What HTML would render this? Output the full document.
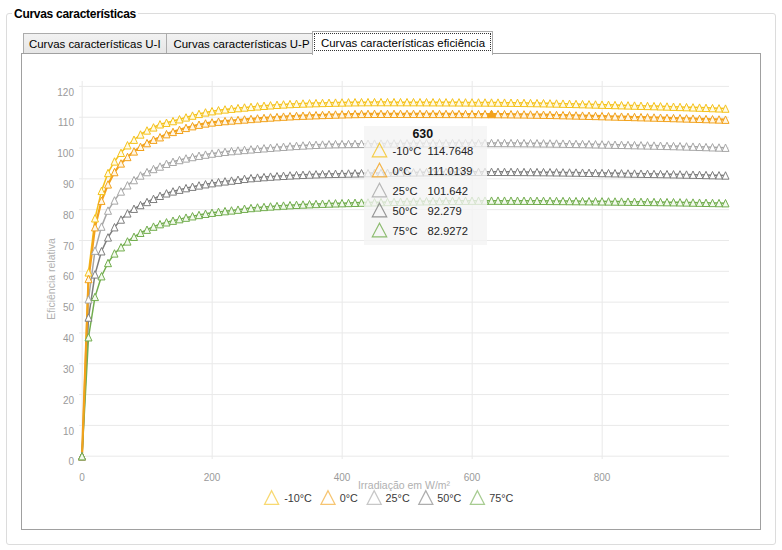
<!DOCTYPE html>
<html><head><meta charset="utf-8"><style>
html,body{margin:0;padding:0;background:#fff;}
body{width:782px;height:550px;position:relative;overflow:hidden;font-family:"Liberation Sans",Arial,sans-serif;}
.gb{position:absolute;left:6px;top:13px;width:768px;height:530px;border:1px solid #dcdcdc;border-radius:3px;}
.gt{position:absolute;left:12px;top:7px;padding:0 2px;background:#fff;font-weight:bold;font-size:12px;color:#000;line-height:14px;letter-spacing:-0.28px;}
.tab{position:absolute;top:33px;height:20px;border:1px solid #acacac;border-bottom:none;background:linear-gradient(#f2f2f2,#e6e6e6);font-size:11.45px;line-height:20px;color:#000;box-sizing:border-box;}
.panel{position:absolute;left:21px;top:53px;width:738px;height:475px;border:1px solid #a0a0a0;background:#fff;}
.sel{position:absolute;left:312px;top:31px;width:181px;height:24px;border:1px solid #acacac;border-bottom:none;background:#fff;box-sizing:border-box;font-size:11.45px;line-height:20px;}
.focus{position:absolute;left:314px;top:33px;width:177px;height:18px;box-sizing:border-box;border:1px dotted #333;}
svg.chart{position:absolute;left:0;top:0;}
.ax{font-size:10px;fill:#9a9a9a;font-family:"Liberation Sans",Arial,sans-serif;}
.at{font-size:10.5px;fill:#b0b0b0;font-family:"Liberation Sans",Arial,sans-serif;}
.lg{font-size:10.8px;fill:#3a3a3a;font-family:"Liberation Sans",Arial,sans-serif;}
.tip{position:absolute;left:364px;top:126px;width:122.5px;height:118.5px;background:rgba(244,244,244,0.78);box-sizing:border-box;padding-top:0px;}
.tt{font-weight:bold;font-size:12.4px;text-align:center;height:15px;line-height:16px;color:#111;padding-right:5px;}
.row{height:20px;position:relative;font-size:11.2px;color:#222;}
.row svg{position:absolute;left:7px;top:1px;}
.row .n{position:absolute;left:28.5px;top:3.6px;}
.row .v{position:absolute;left:63.5px;top:3.6px;}
</style></head><body>
<div class="gb"></div>
<div class="gt">Curvas características</div>
<div class="panel"></div>
<div class="tab" style="left:23px;width:144px;padding-left:5px;">Curvas características U-I</div>
<div class="tab" style="left:166px;width:147px;padding-left:6.5px;">Curvas características U-P</div>
<div class="sel"><span style="position:absolute;left:8px;top:0.5px;">Curvas características eficiência</span></div>
<div class="focus"></div>
<svg class="chart" width="782" height="550" viewBox="0 0 782 550">
<path d="M79 456.20H729M79 425.38H729M79 394.57H729M79 363.75H729M79 332.93H729M79 302.12H729M79 271.30H729M79 240.48H729M79 209.66H729M79 178.85H729M79 148.03H729M79 117.21H729M79 86.40H729M82.20 81V459M212.20 81V459M342.20 81V459M472.20 81V459M602.20 81V459" stroke="#e9e9e9" stroke-width="1" fill="none"/>
<text x="74" y="465.3" text-anchor="end" class="ax">0</text>
<text x="74" y="434.5" text-anchor="end" class="ax">10</text>
<text x="74" y="403.7" text-anchor="end" class="ax">20</text>
<text x="74" y="372.8" text-anchor="end" class="ax">30</text>
<text x="74" y="342.0" text-anchor="end" class="ax">40</text>
<text x="74" y="311.2" text-anchor="end" class="ax">50</text>
<text x="74" y="280.4" text-anchor="end" class="ax">60</text>
<text x="74" y="249.6" text-anchor="end" class="ax">70</text>
<text x="74" y="218.8" text-anchor="end" class="ax">80</text>
<text x="74" y="187.9" text-anchor="end" class="ax">90</text>
<text x="74" y="157.1" text-anchor="end" class="ax">100</text>
<text x="74" y="126.3" text-anchor="end" class="ax">110</text>
<text x="74" y="95.5" text-anchor="end" class="ax">120</text>
<text x="82.0" y="480.8" text-anchor="middle" class="ax">0</text>
<text x="212.0" y="480.8" text-anchor="middle" class="ax">200</text>
<text x="342.0" y="480.8" text-anchor="middle" class="ax">400</text>
<text x="472.0" y="480.8" text-anchor="middle" class="ax">600</text>
<text x="602.0" y="480.8" text-anchor="middle" class="ax">800</text>
<text transform="translate(54.8 279) rotate(-90)" text-anchor="middle" class="at">Eficiência relativa</text>
<text x="404" y="489" text-anchor="middle" class="at">Irradiação em W/m²</text>
<polyline points="82.00,456.20 88.50,272.38 95.00,218.29 101.50,190.87 108.00,172.99 114.50,161.44 121.00,152.81 127.50,145.26 134.00,139.71 140.50,134.47 147.00,130.46 153.50,127.38 160.00,124.30 166.50,122.76 173.00,121.08 179.50,119.27 186.00,117.42 192.50,115.59 199.00,113.89 205.50,112.40 212.00,111.20 218.50,110.25 225.00,109.44 231.50,108.72 238.00,108.09 244.50,107.49 251.00,106.91 257.50,106.34 264.00,105.80 270.50,105.30 277.00,104.83 283.50,104.41 290.00,104.04 296.50,103.74 303.00,103.50 309.50,103.30 316.00,103.11 322.50,102.93 329.00,102.76 335.50,102.60 342.00,102.46 348.50,102.34 355.00,102.25 361.50,102.17 368.00,102.13 374.50,102.11 381.00,102.11 387.50,102.12 394.00,102.13 400.50,102.14 407.00,102.15 413.50,102.17 420.00,102.19 426.50,102.21 433.00,102.23 439.50,102.26 446.00,102.29 452.50,102.32 459.00,102.35 465.50,102.38 472.00,102.42 478.50,102.45 485.00,102.49 491.50,102.53 498.00,102.57 504.50,102.63 511.00,102.70 517.50,102.79 524.00,102.88 530.50,102.99 537.00,103.10 543.50,103.23 550.00,103.36 556.50,103.50 563.00,103.65 569.50,103.80 576.00,103.96 582.50,104.13 589.00,104.30 595.50,104.47 602.00,104.65 608.50,104.83 615.00,105.02 621.50,105.20 628.00,105.38 634.50,105.57 641.00,105.75 647.50,105.94 654.00,106.12 660.50,106.30 667.00,106.50 673.50,106.71 680.00,106.92 686.50,107.14 693.00,107.37 699.50,107.61 706.00,107.85 712.50,108.09 719.00,108.34 725.50,108.58" fill="none" stroke="#f5c21b" stroke-width="1.5" stroke-linejoin="round"/>
<polyline points="82.00,456.20 88.50,299.34 95.00,250.65 101.50,226.61 108.00,210.59 114.50,200.42 121.00,191.48 127.50,185.32 134.00,180.08 140.50,175.46 147.00,172.07 153.50,168.99 160.00,166.52 166.50,163.75 173.00,161.78 179.50,160.02 186.00,158.44 192.50,157.02 199.00,155.75 205.50,154.61 212.00,153.58 218.50,152.65 225.00,151.83 231.50,151.11 238.00,150.50 244.50,149.93 251.00,149.37 257.50,148.82 264.00,148.28 270.50,147.75 277.00,147.24 283.50,146.76 290.00,146.30 296.50,145.87 303.00,145.48 309.50,145.12 316.00,144.81 322.50,144.53 329.00,144.31 335.50,144.14 342.00,144.02 348.50,143.94 355.00,143.86 361.50,143.78 368.00,143.70 374.50,143.63 381.00,143.56 387.50,143.50 394.00,143.44 400.50,143.38 407.00,143.32 413.50,143.27 420.00,143.23 426.50,143.18 433.00,143.14 439.50,143.11 446.00,143.08 452.50,143.05 459.00,143.02 465.50,143.00 472.00,142.99 478.50,142.98 485.00,142.97 491.50,142.97 498.00,142.98 504.50,143.00 511.00,143.03 517.50,143.07 524.00,143.13 530.50,143.19 537.00,143.27 543.50,143.35 550.00,143.44 556.50,143.54 563.00,143.65 569.50,143.77 576.00,143.89 582.50,144.01 589.00,144.14 595.50,144.28 602.00,144.41 608.50,144.56 615.00,144.70 621.50,144.84 628.00,144.99 634.50,145.13 641.00,145.28 647.50,145.42 654.00,145.56 660.50,145.71 667.00,145.88 673.50,146.05 680.00,146.23 686.50,146.43 693.00,146.63 699.50,146.84 706.00,147.06 712.50,147.28 719.00,147.50 725.50,147.72" fill="none" stroke="#a6a6a6" stroke-width="1.5" stroke-linejoin="round"/>
<polyline points="82.00,456.20 88.50,317.52 95.00,274.38 101.50,251.27 108.00,237.40 114.50,227.23 121.00,219.53 127.50,213.36 134.00,208.74 140.50,205.04 147.00,201.96 153.50,198.84 160.00,195.80 166.50,193.33 173.00,191.41 179.50,189.68 186.00,188.12 192.50,186.70 199.00,185.42 205.50,184.25 212.00,183.16 218.50,182.20 225.00,181.37 231.50,180.58 238.00,179.77 244.50,178.84 251.00,178.12 257.50,177.59 264.00,177.09 270.50,176.62 277.00,176.19 283.50,175.79 290.00,175.43 296.50,175.09 303.00,174.79 309.50,174.53 316.00,174.30 322.50,174.10 329.00,173.93 335.50,173.79 342.00,173.65 348.50,173.51 355.00,173.37 361.50,173.24 368.00,173.12 374.50,173.00 381.00,172.88 387.50,172.77 394.00,172.66 400.50,172.56 407.00,172.47 413.50,172.38 420.00,172.29 426.50,172.22 433.00,172.14 439.50,172.08 446.00,172.02 452.50,171.97 459.00,171.93 465.50,171.89 472.00,171.86 478.50,171.84 485.00,171.83 491.50,171.82 498.00,171.83 504.50,171.85 511.00,171.87 517.50,171.91 524.00,171.95 530.50,172.01 537.00,172.07 543.50,172.14 550.00,172.22 556.50,172.30 563.00,172.39 569.50,172.48 576.00,172.58 582.50,172.68 589.00,172.79 595.50,172.90 602.00,173.01 608.50,173.12 615.00,173.24 621.50,173.35 628.00,173.47 634.50,173.58 641.00,173.69 647.50,173.81 654.00,173.92 660.50,174.03 667.00,174.15 673.50,174.28 680.00,174.41 686.50,174.55 693.00,174.69 699.50,174.84 706.00,174.99 712.50,175.14 719.00,175.30 725.50,175.46" fill="none" stroke="#7d7d7d" stroke-width="1.5" stroke-linejoin="round"/>
<polyline points="82.00,456.20 88.50,337.25 95.00,296.88 101.50,276.23 108.00,262.98 114.50,253.42 121.00,247.26 127.50,241.41 134.00,236.78 140.50,232.78 147.00,229.70 153.50,226.61 160.00,224.15 166.50,222.30 173.00,220.69 179.50,219.13 186.00,217.65 192.50,216.25 199.00,214.95 205.50,213.78 212.00,212.75 218.50,211.88 225.00,211.13 231.50,210.42 238.00,209.66 244.50,208.75 251.00,208.01 257.50,207.45 264.00,206.94 270.50,206.45 277.00,206.00 283.50,205.58 290.00,205.19 296.50,204.84 303.00,204.51 309.50,204.22 316.00,203.96 322.50,203.72 329.00,203.52 335.50,203.33 342.00,203.15 348.50,202.97 355.00,202.79 361.50,202.62 368.00,202.45 374.50,202.29 381.00,202.13 387.50,201.98 394.00,201.83 400.50,201.69 407.00,201.56 413.50,201.43 420.00,201.32 426.50,201.21 433.00,201.10 439.50,201.01 446.00,200.93 452.50,200.86 459.00,200.79 465.50,200.74 472.00,200.70 478.50,200.67 485.00,200.65 491.50,200.64 498.00,200.65 504.50,200.66 511.00,200.67 517.50,200.69 524.00,200.72 530.50,200.75 537.00,200.79 543.50,200.83 550.00,200.88 556.50,200.93 563.00,200.98 569.50,201.04 576.00,201.10 582.50,201.16 589.00,201.23 595.50,201.29 602.00,201.36 608.50,201.44 615.00,201.51 621.50,201.58 628.00,201.66 634.50,201.73 641.00,201.81 647.50,201.88 654.00,201.96 660.50,202.04 667.00,202.13 673.50,202.23 680.00,202.33 686.50,202.44 693.00,202.56 699.50,202.68 706.00,202.81 712.50,202.93 719.00,203.06 725.50,203.19" fill="none" stroke="#72ad4e" stroke-width="1.5" stroke-linejoin="round"/>
<polyline points="82.00,456.20 88.50,279.00 95.00,227.23 101.50,200.73 108.00,184.39 114.50,172.07 121.00,163.44 127.50,156.97 134.00,151.42 140.50,146.80 147.00,143.10 153.50,139.71 160.00,137.24 166.50,134.16 173.00,131.90 179.50,129.80 186.00,127.89 192.50,126.19 199.00,124.70 205.50,123.45 212.00,122.45 218.50,121.68 225.00,121.05 231.50,120.50 238.00,119.99 244.50,119.47 251.00,118.95 257.50,118.44 264.00,117.95 270.50,117.48 277.00,117.04 283.50,116.63 290.00,116.27 296.50,115.94 303.00,115.67 309.50,115.43 316.00,115.18 322.50,114.95 329.00,114.72 335.50,114.51 342.00,114.32 348.50,114.15 355.00,114.02 361.50,113.91 368.00,113.85 374.50,113.82 381.00,113.82 387.50,113.83 394.00,113.83 400.50,113.84 407.00,113.85 413.50,113.86 420.00,113.87 426.50,113.88 433.00,113.90 439.50,113.91 446.00,113.93 452.50,113.95 459.00,113.97 465.50,113.99 472.00,114.02 478.50,114.04 485.00,114.06 491.50,114.09 498.00,114.12 504.50,114.17 511.00,114.23 517.50,114.31 524.00,114.39 530.50,114.49 537.00,114.60 543.50,114.72 550.00,114.85 556.50,114.99 563.00,115.14 569.50,115.29 576.00,115.45 582.50,115.61 589.00,115.78 595.50,115.95 602.00,116.12 608.50,116.30 615.00,116.48 621.50,116.66 628.00,116.83 634.50,117.01 641.00,117.18 647.50,117.35 654.00,117.52 660.50,117.69 667.00,117.87 673.50,118.05 680.00,118.24 686.50,118.43 693.00,118.63 699.50,118.84 706.00,119.04 712.50,119.25 719.00,119.46 725.50,119.68" fill="none" stroke="#f2a21c" stroke-width="2.2" stroke-linejoin="round"/>
<path d="M82.00 452.50L85.50 459.90H78.50ZM88.50 268.68L92.00 276.08H85.00ZM95.00 214.59L98.50 221.99H91.50ZM101.50 187.17L105.00 194.57H98.00ZM108.00 169.29L111.50 176.69H104.50ZM114.50 157.74L118.00 165.14H111.00ZM121.00 149.11L124.50 156.51H117.50ZM127.50 141.56L131.00 148.96H124.00ZM134.00 136.01L137.50 143.41H130.50ZM140.50 130.77L144.00 138.17H137.00ZM147.00 126.76L150.50 134.16H143.50ZM153.50 123.68L157.00 131.08H150.00ZM160.00 120.60L163.50 128.00H156.50ZM166.50 119.06L170.00 126.46H163.00ZM173.00 117.38L176.50 124.78H169.50ZM179.50 115.57L183.00 122.97H176.00ZM186.00 113.72L189.50 121.12H182.50ZM192.50 111.89L196.00 119.29H189.00ZM199.00 110.19L202.50 117.59H195.50ZM205.50 108.70L209.00 116.10H202.00ZM212.00 107.50L215.50 114.90H208.50ZM218.50 106.55L222.00 113.95H215.00ZM225.00 105.74L228.50 113.14H221.50ZM231.50 105.02L235.00 112.42H228.00ZM238.00 104.39L241.50 111.79H234.50ZM244.50 103.79L248.00 111.19H241.00ZM251.00 103.21L254.50 110.61H247.50ZM257.50 102.64L261.00 110.04H254.00ZM264.00 102.10L267.50 109.50H260.50ZM270.50 101.60L274.00 109.00H267.00ZM277.00 101.13L280.50 108.53H273.50ZM283.50 100.71L287.00 108.11H280.00ZM290.00 100.34L293.50 107.74H286.50ZM296.50 100.04L300.00 107.44H293.00ZM303.00 99.80L306.50 107.20H299.50ZM309.50 99.60L313.00 107.00H306.00ZM316.00 99.41L319.50 106.81H312.50ZM322.50 99.23L326.00 106.63H319.00ZM329.00 99.06L332.50 106.46H325.50ZM335.50 98.90L339.00 106.30H332.00ZM342.00 98.76L345.50 106.16H338.50ZM348.50 98.64L352.00 106.04H345.00ZM355.00 98.55L358.50 105.95H351.50ZM361.50 98.47L365.00 105.87H358.00ZM368.00 98.43L371.50 105.83H364.50ZM374.50 98.41L378.00 105.81H371.00ZM381.00 98.41L384.50 105.81H377.50ZM387.50 98.42L391.00 105.82H384.00ZM394.00 98.43L397.50 105.83H390.50ZM400.50 98.44L404.00 105.84H397.00ZM407.00 98.45L410.50 105.85H403.50ZM413.50 98.47L417.00 105.87H410.00ZM420.00 98.49L423.50 105.89H416.50ZM426.50 98.51L430.00 105.91H423.00ZM433.00 98.53L436.50 105.93H429.50ZM439.50 98.56L443.00 105.96H436.00ZM446.00 98.59L449.50 105.99H442.50ZM452.50 98.62L456.00 106.02H449.00ZM459.00 98.65L462.50 106.05H455.50ZM465.50 98.68L469.00 106.08H462.00ZM472.00 98.72L475.50 106.12H468.50ZM478.50 98.75L482.00 106.15H475.00ZM485.00 98.79L488.50 106.19H481.50ZM491.50 98.83L495.00 106.23H488.00ZM498.00 98.87L501.50 106.27H494.50ZM504.50 98.93L508.00 106.33H501.00ZM511.00 99.00L514.50 106.40H507.50ZM517.50 99.09L521.00 106.49H514.00ZM524.00 99.18L527.50 106.58H520.50ZM530.50 99.29L534.00 106.69H527.00ZM537.00 99.40L540.50 106.80H533.50ZM543.50 99.53L547.00 106.93H540.00ZM550.00 99.66L553.50 107.06H546.50ZM556.50 99.80L560.00 107.20H553.00ZM563.00 99.95L566.50 107.35H559.50ZM569.50 100.10L573.00 107.50H566.00ZM576.00 100.26L579.50 107.66H572.50ZM582.50 100.43L586.00 107.83H579.00ZM589.00 100.60L592.50 108.00H585.50ZM595.50 100.77L599.00 108.17H592.00ZM602.00 100.95L605.50 108.35H598.50ZM608.50 101.13L612.00 108.53H605.00ZM615.00 101.32L618.50 108.72H611.50ZM621.50 101.50L625.00 108.90H618.00ZM628.00 101.68L631.50 109.08H624.50ZM634.50 101.87L638.00 109.27H631.00ZM641.00 102.05L644.50 109.45H637.50ZM647.50 102.24L651.00 109.64H644.00ZM654.00 102.42L657.50 109.82H650.50ZM660.50 102.60L664.00 110.00H657.00ZM667.00 102.80L670.50 110.20H663.50ZM673.50 103.01L677.00 110.41H670.00ZM680.00 103.22L683.50 110.62H676.50ZM686.50 103.44L690.00 110.84H683.00ZM693.00 103.67L696.50 111.07H689.50ZM699.50 103.91L703.00 111.31H696.00ZM706.00 104.15L709.50 111.55H702.50ZM712.50 104.39L716.00 111.79H709.00ZM719.00 104.64L722.50 112.04H715.50ZM725.50 104.88L729.00 112.28H722.00Z" fill="#fffbe6" stroke="#f5c21b" stroke-width="1"/>
<path d="M82.00 452.50L85.50 459.90H78.50ZM88.50 275.30L92.00 282.70H85.00ZM95.00 223.53L98.50 230.93H91.50ZM101.50 197.03L105.00 204.43H98.00ZM108.00 180.69L111.50 188.09H104.50ZM114.50 168.37L118.00 175.77H111.00ZM121.00 159.74L124.50 167.14H117.50ZM127.50 153.27L131.00 160.67H124.00ZM134.00 147.72L137.50 155.12H130.50ZM140.50 143.10L144.00 150.50H137.00ZM147.00 139.40L150.50 146.80H143.50ZM153.50 136.01L157.00 143.41H150.00ZM160.00 133.54L163.50 140.94H156.50ZM166.50 130.46L170.00 137.86H163.00ZM173.00 128.20L176.50 135.60H169.50ZM179.50 126.10L183.00 133.50H176.00ZM186.00 124.19L189.50 131.59H182.50ZM192.50 122.49L196.00 129.89H189.00ZM199.00 121.00L202.50 128.40H195.50ZM205.50 119.75L209.00 127.15H202.00ZM212.00 118.75L215.50 126.15H208.50ZM218.50 117.98L222.00 125.38H215.00ZM225.00 117.35L228.50 124.75H221.50ZM231.50 116.80L235.00 124.20H228.00ZM238.00 116.29L241.50 123.69H234.50ZM244.50 115.77L248.00 123.17H241.00ZM251.00 115.25L254.50 122.65H247.50ZM257.50 114.74L261.00 122.14H254.00ZM264.00 114.25L267.50 121.65H260.50ZM270.50 113.78L274.00 121.18H267.00ZM277.00 113.34L280.50 120.74H273.50ZM283.50 112.93L287.00 120.33H280.00ZM290.00 112.57L293.50 119.97H286.50ZM296.50 112.24L300.00 119.64H293.00ZM303.00 111.97L306.50 119.37H299.50ZM309.50 111.73L313.00 119.13H306.00ZM316.00 111.48L319.50 118.88H312.50ZM322.50 111.25L326.00 118.65H319.00ZM329.00 111.02L332.50 118.42H325.50ZM335.50 110.81L339.00 118.21H332.00ZM342.00 110.62L345.50 118.02H338.50ZM348.50 110.45L352.00 117.85H345.00ZM355.00 110.32L358.50 117.72H351.50ZM361.50 110.21L365.00 117.61H358.00ZM368.00 110.15L371.50 117.55H364.50ZM374.50 110.12L378.00 117.52H371.00ZM381.00 110.12L384.50 117.52H377.50ZM387.50 110.13L391.00 117.53H384.00ZM394.00 110.13L397.50 117.53H390.50ZM400.50 110.14L404.00 117.54H397.00ZM407.00 110.15L410.50 117.55H403.50ZM413.50 110.16L417.00 117.56H410.00ZM420.00 110.17L423.50 117.57H416.50ZM426.50 110.18L430.00 117.58H423.00ZM433.00 110.20L436.50 117.60H429.50ZM439.50 110.21L443.00 117.61H436.00ZM446.00 110.23L449.50 117.63H442.50ZM452.50 110.25L456.00 117.65H449.00ZM459.00 110.27L462.50 117.67H455.50ZM465.50 110.29L469.00 117.69H462.00ZM472.00 110.32L475.50 117.72H468.50ZM478.50 110.34L482.00 117.74H475.00ZM485.00 110.36L488.50 117.76H481.50ZM491.50 110.39L495.00 117.79H488.00ZM498.00 110.42L501.50 117.82H494.50ZM504.50 110.47L508.00 117.87H501.00ZM511.00 110.53L514.50 117.93H507.50ZM517.50 110.61L521.00 118.01H514.00ZM524.00 110.69L527.50 118.09H520.50ZM530.50 110.79L534.00 118.19H527.00ZM537.00 110.90L540.50 118.30H533.50ZM543.50 111.02L547.00 118.42H540.00ZM550.00 111.15L553.50 118.55H546.50ZM556.50 111.29L560.00 118.69H553.00ZM563.00 111.44L566.50 118.84H559.50ZM569.50 111.59L573.00 118.99H566.00ZM576.00 111.75L579.50 119.15H572.50ZM582.50 111.91L586.00 119.31H579.00ZM589.00 112.08L592.50 119.48H585.50ZM595.50 112.25L599.00 119.65H592.00ZM602.00 112.42L605.50 119.82H598.50ZM608.50 112.60L612.00 120.00H605.00ZM615.00 112.78L618.50 120.18H611.50ZM621.50 112.96L625.00 120.36H618.00ZM628.00 113.13L631.50 120.53H624.50ZM634.50 113.31L638.00 120.71H631.00ZM641.00 113.48L644.50 120.88H637.50ZM647.50 113.65L651.00 121.05H644.00ZM654.00 113.82L657.50 121.22H650.50ZM660.50 113.99L664.00 121.39H657.00ZM667.00 114.17L670.50 121.57H663.50ZM673.50 114.35L677.00 121.75H670.00ZM680.00 114.54L683.50 121.94H676.50ZM686.50 114.73L690.00 122.13H683.00ZM693.00 114.93L696.50 122.33H689.50ZM699.50 115.14L703.00 122.54H696.00ZM706.00 115.34L709.50 122.74H702.50ZM712.50 115.55L716.00 122.95H709.00ZM719.00 115.76L722.50 123.16H715.50ZM725.50 115.98L729.00 123.38H722.00Z" fill="#fff6e6" stroke="#f2a21c" stroke-width="1"/>
<path d="M82.00 452.50L85.50 459.90H78.50ZM88.50 295.64L92.00 303.04H85.00ZM95.00 246.95L98.50 254.35H91.50ZM101.50 222.91L105.00 230.31H98.00ZM108.00 206.89L111.50 214.29H104.50ZM114.50 196.72L118.00 204.12H111.00ZM121.00 187.78L124.50 195.18H117.50ZM127.50 181.62L131.00 189.02H124.00ZM134.00 176.38L137.50 183.78H130.50ZM140.50 171.76L144.00 179.16H137.00ZM147.00 168.37L150.50 175.77H143.50ZM153.50 165.29L157.00 172.69H150.00ZM160.00 162.82L163.50 170.22H156.50ZM166.50 160.05L170.00 167.45H163.00ZM173.00 158.08L176.50 165.48H169.50ZM179.50 156.32L183.00 163.72H176.00ZM186.00 154.74L189.50 162.14H182.50ZM192.50 153.32L196.00 160.72H189.00ZM199.00 152.05L202.50 159.45H195.50ZM205.50 150.91L209.00 158.31H202.00ZM212.00 149.88L215.50 157.28H208.50ZM218.50 148.95L222.00 156.35H215.00ZM225.00 148.13L228.50 155.53H221.50ZM231.50 147.41L235.00 154.81H228.00ZM238.00 146.80L241.50 154.20H234.50ZM244.50 146.23L248.00 153.63H241.00ZM251.00 145.67L254.50 153.07H247.50ZM257.50 145.12L261.00 152.52H254.00ZM264.00 144.58L267.50 151.98H260.50ZM270.50 144.05L274.00 151.45H267.00ZM277.00 143.54L280.50 150.94H273.50ZM283.50 143.06L287.00 150.46H280.00ZM290.00 142.60L293.50 150.00H286.50ZM296.50 142.17L300.00 149.57H293.00ZM303.00 141.78L306.50 149.18H299.50ZM309.50 141.42L313.00 148.82H306.00ZM316.00 141.11L319.50 148.51H312.50ZM322.50 140.83L326.00 148.23H319.00ZM329.00 140.61L332.50 148.01H325.50ZM335.50 140.44L339.00 147.84H332.00ZM342.00 140.32L345.50 147.72H338.50ZM348.50 140.24L352.00 147.64H345.00ZM355.00 140.16L358.50 147.56H351.50ZM361.50 140.08L365.00 147.48H358.00ZM368.00 140.00L371.50 147.40H364.50ZM374.50 139.93L378.00 147.33H371.00ZM381.00 139.86L384.50 147.26H377.50ZM387.50 139.80L391.00 147.20H384.00ZM394.00 139.74L397.50 147.14H390.50ZM400.50 139.68L404.00 147.08H397.00ZM407.00 139.62L410.50 147.02H403.50ZM413.50 139.57L417.00 146.97H410.00ZM420.00 139.53L423.50 146.93H416.50ZM426.50 139.48L430.00 146.88H423.00ZM433.00 139.44L436.50 146.84H429.50ZM439.50 139.41L443.00 146.81H436.00ZM446.00 139.38L449.50 146.78H442.50ZM452.50 139.35L456.00 146.75H449.00ZM459.00 139.32L462.50 146.72H455.50ZM465.50 139.30L469.00 146.70H462.00ZM472.00 139.29L475.50 146.69H468.50ZM478.50 139.28L482.00 146.68H475.00ZM485.00 139.27L488.50 146.67H481.50ZM491.50 139.27L495.00 146.67H488.00ZM498.00 139.28L501.50 146.68H494.50ZM504.50 139.30L508.00 146.70H501.00ZM511.00 139.33L514.50 146.73H507.50ZM517.50 139.37L521.00 146.77H514.00ZM524.00 139.43L527.50 146.83H520.50ZM530.50 139.49L534.00 146.89H527.00ZM537.00 139.57L540.50 146.97H533.50ZM543.50 139.65L547.00 147.05H540.00ZM550.00 139.74L553.50 147.14H546.50ZM556.50 139.84L560.00 147.24H553.00ZM563.00 139.95L566.50 147.35H559.50ZM569.50 140.07L573.00 147.47H566.00ZM576.00 140.19L579.50 147.59H572.50ZM582.50 140.31L586.00 147.71H579.00ZM589.00 140.44L592.50 147.84H585.50ZM595.50 140.58L599.00 147.98H592.00ZM602.00 140.71L605.50 148.11H598.50ZM608.50 140.86L612.00 148.26H605.00ZM615.00 141.00L618.50 148.40H611.50ZM621.50 141.14L625.00 148.54H618.00ZM628.00 141.29L631.50 148.69H624.50ZM634.50 141.43L638.00 148.83H631.00ZM641.00 141.58L644.50 148.98H637.50ZM647.50 141.72L651.00 149.12H644.00ZM654.00 141.86L657.50 149.26H650.50ZM660.50 142.01L664.00 149.41H657.00ZM667.00 142.18L670.50 149.58H663.50ZM673.50 142.35L677.00 149.75H670.00ZM680.00 142.53L683.50 149.93H676.50ZM686.50 142.73L690.00 150.13H683.00ZM693.00 142.93L696.50 150.33H689.50ZM699.50 143.14L703.00 150.54H696.00ZM706.00 143.36L709.50 150.76H702.50ZM712.50 143.58L716.00 150.98H709.00ZM719.00 143.80L722.50 151.20H715.50ZM725.50 144.02L729.00 151.42H722.00Z" fill="#ffffff" stroke="#a6a6a6" stroke-width="1"/>
<path d="M82.00 452.50L85.50 459.90H78.50ZM88.50 313.82L92.00 321.22H85.00ZM95.00 270.68L98.50 278.08H91.50ZM101.50 247.57L105.00 254.97H98.00ZM108.00 233.70L111.50 241.10H104.50ZM114.50 223.53L118.00 230.93H111.00ZM121.00 215.83L124.50 223.23H117.50ZM127.50 209.66L131.00 217.06H124.00ZM134.00 205.04L137.50 212.44H130.50ZM140.50 201.34L144.00 208.74H137.00ZM147.00 198.26L150.50 205.66H143.50ZM153.50 195.14L157.00 202.54H150.00ZM160.00 192.10L163.50 199.50H156.50ZM166.50 189.63L170.00 197.03H163.00ZM173.00 187.71L176.50 195.11H169.50ZM179.50 185.98L183.00 193.38H176.00ZM186.00 184.42L189.50 191.82H182.50ZM192.50 183.00L196.00 190.40H189.00ZM199.00 181.72L202.50 189.12H195.50ZM205.50 180.55L209.00 187.95H202.00ZM212.00 179.46L215.50 186.86H208.50ZM218.50 178.50L222.00 185.90H215.00ZM225.00 177.67L228.50 185.07H221.50ZM231.50 176.88L235.00 184.28H228.00ZM238.00 176.07L241.50 183.47H234.50ZM244.50 175.14L248.00 182.54H241.00ZM251.00 174.42L254.50 181.82H247.50ZM257.50 173.89L261.00 181.29H254.00ZM264.00 173.39L267.50 180.79H260.50ZM270.50 172.92L274.00 180.32H267.00ZM277.00 172.49L280.50 179.89H273.50ZM283.50 172.09L287.00 179.49H280.00ZM290.00 171.73L293.50 179.13H286.50ZM296.50 171.39L300.00 178.79H293.00ZM303.00 171.09L306.50 178.49H299.50ZM309.50 170.83L313.00 178.23H306.00ZM316.00 170.60L319.50 178.00H312.50ZM322.50 170.40L326.00 177.80H319.00ZM329.00 170.23L332.50 177.63H325.50ZM335.50 170.09L339.00 177.49H332.00ZM342.00 169.95L345.50 177.35H338.50ZM348.50 169.81L352.00 177.21H345.00ZM355.00 169.67L358.50 177.07H351.50ZM361.50 169.54L365.00 176.94H358.00ZM368.00 169.42L371.50 176.82H364.50ZM374.50 169.30L378.00 176.70H371.00ZM381.00 169.18L384.50 176.58H377.50ZM387.50 169.07L391.00 176.47H384.00ZM394.00 168.96L397.50 176.36H390.50ZM400.50 168.86L404.00 176.26H397.00ZM407.00 168.77L410.50 176.17H403.50ZM413.50 168.68L417.00 176.08H410.00ZM420.00 168.59L423.50 175.99H416.50ZM426.50 168.52L430.00 175.92H423.00ZM433.00 168.44L436.50 175.84H429.50ZM439.50 168.38L443.00 175.78H436.00ZM446.00 168.32L449.50 175.72H442.50ZM452.50 168.27L456.00 175.67H449.00ZM459.00 168.23L462.50 175.63H455.50ZM465.50 168.19L469.00 175.59H462.00ZM472.00 168.16L475.50 175.56H468.50ZM478.50 168.14L482.00 175.54H475.00ZM485.00 168.13L488.50 175.53H481.50ZM491.50 168.12L495.00 175.52H488.00ZM498.00 168.13L501.50 175.53H494.50ZM504.50 168.15L508.00 175.55H501.00ZM511.00 168.17L514.50 175.57H507.50ZM517.50 168.21L521.00 175.61H514.00ZM524.00 168.25L527.50 175.65H520.50ZM530.50 168.31L534.00 175.71H527.00ZM537.00 168.37L540.50 175.77H533.50ZM543.50 168.44L547.00 175.84H540.00ZM550.00 168.52L553.50 175.92H546.50ZM556.50 168.60L560.00 176.00H553.00ZM563.00 168.69L566.50 176.09H559.50ZM569.50 168.78L573.00 176.18H566.00ZM576.00 168.88L579.50 176.28H572.50ZM582.50 168.98L586.00 176.38H579.00ZM589.00 169.09L592.50 176.49H585.50ZM595.50 169.20L599.00 176.60H592.00ZM602.00 169.31L605.50 176.71H598.50ZM608.50 169.42L612.00 176.82H605.00ZM615.00 169.54L618.50 176.94H611.50ZM621.50 169.65L625.00 177.05H618.00ZM628.00 169.77L631.50 177.17H624.50ZM634.50 169.88L638.00 177.28H631.00ZM641.00 169.99L644.50 177.39H637.50ZM647.50 170.11L651.00 177.51H644.00ZM654.00 170.22L657.50 177.62H650.50ZM660.50 170.33L664.00 177.73H657.00ZM667.00 170.45L670.50 177.85H663.50ZM673.50 170.58L677.00 177.98H670.00ZM680.00 170.71L683.50 178.11H676.50ZM686.50 170.85L690.00 178.25H683.00ZM693.00 170.99L696.50 178.39H689.50ZM699.50 171.14L703.00 178.54H696.00ZM706.00 171.29L709.50 178.69H702.50ZM712.50 171.44L716.00 178.84H709.00ZM719.00 171.60L722.50 179.00H715.50ZM725.50 171.76L729.00 179.16H722.00Z" fill="#ffffff" stroke="#7d7d7d" stroke-width="1"/>
<path d="M82.00 452.50L85.50 459.90H78.50ZM88.50 333.55L92.00 340.95H85.00ZM95.00 293.18L98.50 300.58H91.50ZM101.50 272.53L105.00 279.93H98.00ZM108.00 259.28L111.50 266.68H104.50ZM114.50 249.72L118.00 257.12H111.00ZM121.00 243.56L124.50 250.96H117.50ZM127.50 237.71L131.00 245.11H124.00ZM134.00 233.08L137.50 240.48H130.50ZM140.50 229.08L144.00 236.48H137.00ZM147.00 226.00L150.50 233.40H143.50ZM153.50 222.91L157.00 230.31H150.00ZM160.00 220.45L163.50 227.85H156.50ZM166.50 218.60L170.00 226.00H163.00ZM173.00 216.99L176.50 224.39H169.50ZM179.50 215.43L183.00 222.83H176.00ZM186.00 213.95L189.50 221.35H182.50ZM192.50 212.55L196.00 219.95H189.00ZM199.00 211.25L202.50 218.65H195.50ZM205.50 210.08L209.00 217.48H202.00ZM212.00 209.05L215.50 216.45H208.50ZM218.50 208.18L222.00 215.58H215.00ZM225.00 207.43L228.50 214.83H221.50ZM231.50 206.72L235.00 214.12H228.00ZM238.00 205.96L241.50 213.36H234.50ZM244.50 205.05L248.00 212.45H241.00ZM251.00 204.31L254.50 211.71H247.50ZM257.50 203.75L261.00 211.15H254.00ZM264.00 203.24L267.50 210.64H260.50ZM270.50 202.75L274.00 210.15H267.00ZM277.00 202.30L280.50 209.70H273.50ZM283.50 201.88L287.00 209.28H280.00ZM290.00 201.49L293.50 208.89H286.50ZM296.50 201.14L300.00 208.54H293.00ZM303.00 200.81L306.50 208.21H299.50ZM309.50 200.52L313.00 207.92H306.00ZM316.00 200.26L319.50 207.66H312.50ZM322.50 200.02L326.00 207.42H319.00ZM329.00 199.82L332.50 207.22H325.50ZM335.50 199.63L339.00 207.03H332.00ZM342.00 199.45L345.50 206.85H338.50ZM348.50 199.27L352.00 206.67H345.00ZM355.00 199.09L358.50 206.49H351.50ZM361.50 198.92L365.00 206.32H358.00ZM368.00 198.75L371.50 206.15H364.50ZM374.50 198.59L378.00 205.99H371.00ZM381.00 198.43L384.50 205.83H377.50ZM387.50 198.28L391.00 205.68H384.00ZM394.00 198.13L397.50 205.53H390.50ZM400.50 197.99L404.00 205.39H397.00ZM407.00 197.86L410.50 205.26H403.50ZM413.50 197.73L417.00 205.13H410.00ZM420.00 197.62L423.50 205.02H416.50ZM426.50 197.51L430.00 204.91H423.00ZM433.00 197.40L436.50 204.80H429.50ZM439.50 197.31L443.00 204.71H436.00ZM446.00 197.23L449.50 204.63H442.50ZM452.50 197.16L456.00 204.56H449.00ZM459.00 197.09L462.50 204.49H455.50ZM465.50 197.04L469.00 204.44H462.00ZM472.00 197.00L475.50 204.40H468.50ZM478.50 196.97L482.00 204.37H475.00ZM485.00 196.95L488.50 204.35H481.50ZM491.50 196.94L495.00 204.34H488.00ZM498.00 196.95L501.50 204.35H494.50ZM504.50 196.96L508.00 204.36H501.00ZM511.00 196.97L514.50 204.37H507.50ZM517.50 196.99L521.00 204.39H514.00ZM524.00 197.02L527.50 204.42H520.50ZM530.50 197.05L534.00 204.45H527.00ZM537.00 197.09L540.50 204.49H533.50ZM543.50 197.13L547.00 204.53H540.00ZM550.00 197.18L553.50 204.58H546.50ZM556.50 197.23L560.00 204.63H553.00ZM563.00 197.28L566.50 204.68H559.50ZM569.50 197.34L573.00 204.74H566.00ZM576.00 197.40L579.50 204.80H572.50ZM582.50 197.46L586.00 204.86H579.00ZM589.00 197.53L592.50 204.93H585.50ZM595.50 197.59L599.00 204.99H592.00ZM602.00 197.66L605.50 205.06H598.50ZM608.50 197.74L612.00 205.14H605.00ZM615.00 197.81L618.50 205.21H611.50ZM621.50 197.88L625.00 205.28H618.00ZM628.00 197.96L631.50 205.36H624.50ZM634.50 198.03L638.00 205.43H631.00ZM641.00 198.11L644.50 205.51H637.50ZM647.50 198.18L651.00 205.58H644.00ZM654.00 198.26L657.50 205.66H650.50ZM660.50 198.34L664.00 205.74H657.00ZM667.00 198.43L670.50 205.83H663.50ZM673.50 198.53L677.00 205.93H670.00ZM680.00 198.63L683.50 206.03H676.50ZM686.50 198.74L690.00 206.14H683.00ZM693.00 198.86L696.50 206.26H689.50ZM699.50 198.98L703.00 206.38H696.00ZM706.00 199.11L709.50 206.51H702.50ZM712.50 199.23L716.00 206.63H709.00ZM719.00 199.36L722.50 206.76H715.50ZM725.50 199.49L729.00 206.89H722.00Z" fill="#f3faee" stroke="#72ad4e" stroke-width="1"/>
<path d="M491.50 110.29L495.50 117.29H487.50Z" fill="#f2a21c" stroke="#f2a21c" stroke-width="1"/>
<path d="M271.60 490.70L278.60 504.30H264.60Z" fill="#fff" stroke="#f5c21b" stroke-width="1.3" opacity="0.62"/>
<text x="284.2" y="502" class="lg">-10°C</text>
<path d="M328.00 490.70L335.00 504.30H321.00Z" fill="#fff" stroke="#f2a21c" stroke-width="1.3" opacity="0.62"/>
<text x="339.7" y="502" class="lg">0°C</text>
<path d="M374.20 490.70L381.20 504.30H367.20Z" fill="#fff" stroke="#a6a6a6" stroke-width="1.3" opacity="0.62"/>
<text x="385.6" y="502" class="lg">25°C</text>
<path d="M425.80 490.70L432.80 504.30H418.80Z" fill="#fff" stroke="#7d7d7d" stroke-width="1.3" opacity="0.62"/>
<text x="437.3" y="502" class="lg">50°C</text>
<path d="M477.40 490.70L484.40 504.30H470.40Z" fill="#fff" stroke="#72ad4e" stroke-width="1.3" opacity="0.62"/>
<text x="489.3" y="502" class="lg">75°C</text>
</svg>
<div class="tip">
<div class="tt">630</div>
<div class="row"><svg width="17" height="16" viewBox="0 0 17 16"><path d="M8.50 1.20L15.70 14.80H1.30Z" fill="none" stroke="#f5c21b" stroke-width="1.2" opacity="0.8"/></svg><span class="n">-10°C</span><span class="v">114.7648</span></div>
<div class="row"><svg width="17" height="16" viewBox="0 0 17 16"><path d="M8.50 1.20L15.70 14.80H1.30Z" fill="none" stroke="#f2a21c" stroke-width="1.2" opacity="0.8"/></svg><span class="n">0°C</span><span class="v">111.0139</span></div>
<div class="row"><svg width="17" height="16" viewBox="0 0 17 16"><path d="M8.50 1.20L15.70 14.80H1.30Z" fill="none" stroke="#a6a6a6" stroke-width="1.2" opacity="0.8"/></svg><span class="n">25°C</span><span class="v">101.642</span></div>
<div class="row"><svg width="17" height="16" viewBox="0 0 17 16"><path d="M8.50 1.20L15.70 14.80H1.30Z" fill="none" stroke="#7d7d7d" stroke-width="1.2" opacity="0.8"/></svg><span class="n">50°C</span><span class="v">92.279</span></div>
<div class="row"><svg width="17" height="16" viewBox="0 0 17 16"><path d="M8.50 1.20L15.70 14.80H1.30Z" fill="none" stroke="#72ad4e" stroke-width="1.2" opacity="0.8"/></svg><span class="n">75°C</span><span class="v">82.9272</span></div>
</div>
</body></html>
